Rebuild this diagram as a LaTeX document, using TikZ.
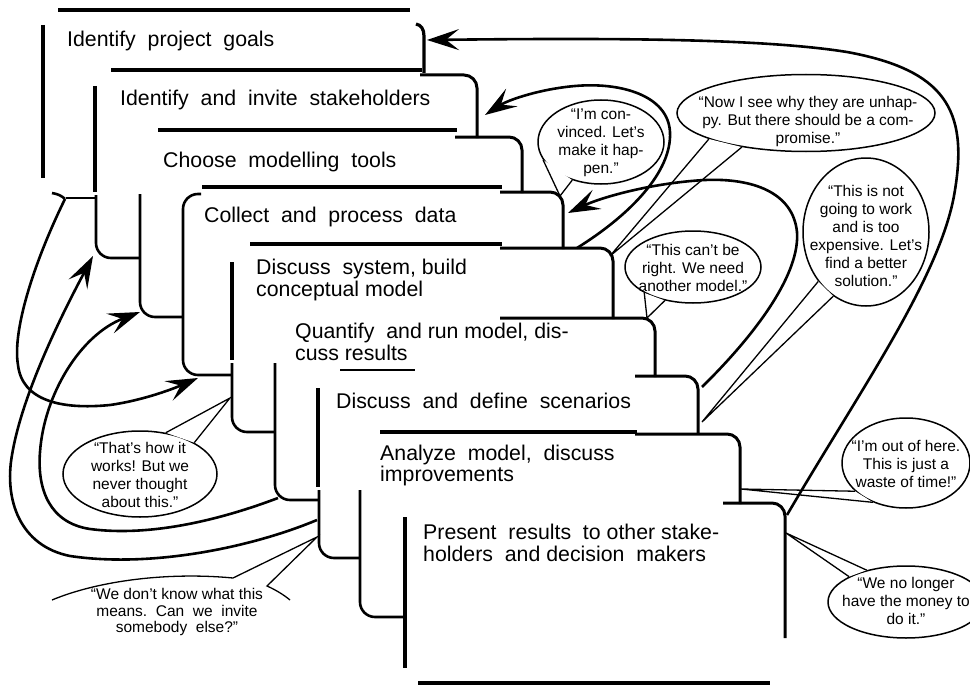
\documentclass[tikz,border=0pt]{standalone}
\usepackage{fontspec}
\setmainfont{Liberation Sans}
\usetikzlibrary{arrows.meta,shapes.geometric,calc}
\newcommand\btail[4]{%
  \fill[white] (#1.#2) -- ($(#1.#2)!0.25!(#3)$) -- ($(#1.#4)!0.25!(#3)$) -- (#1.#4) -- cycle;
  \draw[tailline] (#1.#2) -- (#3) -- (#1.#4);}
\begin{document}
\begin{tikzpicture}[x=1pt,y=-1pt,
  cardline/.style={line width=3.2pt},
  connline/.style={line width=2.6pt, rounded corners=15pt},
  cornerline/.style={line width=3pt, rounded corners=13pt},
  curveline/.style={line width=2.6pt},
  arrowline/.style={curveline, -{Stealth[length=32pt,width=21pt,inset=13pt]}},
  cardtxt/.style={anchor=base west, inner sep=0pt, font=\fontsize{21.3}{24}\selectfont},
  bubbleshape/.style={ellipse, draw, line width=1.5pt, fill=white, inner sep=0pt},
  btxt/.style={align=center, inner sep=0pt, font=\fontsize{15.5}{18}\selectfont},
  tailline/.style={line width=1.3pt, line join=miter},
]
\fill[white] (0,0) rectangle (970,685);
\useasboundingbox (0,0) rectangle (970,685);

% ---------- cards ----------
% card 1
\draw[cardline] (58,10) -- (410,10);
\draw[cardline] (43,25) -- (43,178);
\draw[cardline] (416,24) .. controls (421,25) and (424,29) .. (424,36) -- (424,73);
% card 2
\draw[cardline] (111,70) -- (422,70);
\draw[cardline] (95,86) -- (95,192);
\draw[cornerline] (420,75) -- (477,75) -- (477,138);
\draw[connline] (96,195) -- (96,258) -- (140,258);
% card 3
\draw[cardline] (158,130) -- (457,130);
\draw[cornerline] (455,137) -- (522,137) -- (522,193);
\draw[connline] (140,194) -- (140,317) -- (183,317);
% card 4
\draw[cardline] (202,187) -- (502,187);
\draw[cornerline] (500,192) -- (563,192) -- (563,249);
\draw[connline] (201,194) -- (183,194) -- (183,375) -- (232,375);
% card 5
\draw[cardline] (250,244) -- (502,244);
\draw[cornerline] (500,248) -- (613,248) -- (613,319);
\draw[cardline] (232,262) -- (232,360);
\draw[connline] (232,363) -- (232,432) -- (275,432);
% card 6
\draw[cornerline] (500,318) -- (655,318) -- (655,377);
\draw[connline] (275,363) -- (275,500) -- (318,500);
% card 7
\draw[line width=1.5pt] (340,370) -- (415,370);
\draw[cornerline] (635,376) -- (698,376) -- (698,434);
\draw[cardline] (318,388) -- (318,487);
\draw[connline] (319,490) -- (319,558) -- (360,558);
% card 8
\draw[cardline] (380,432) -- (637,432);
\draw[cornerline] (635,434) -- (740,434) -- (740,504);
\draw[connline] (360,490) -- (360,617) -- (405,617);
% card 9
\draw[cornerline] (723,503) -- (785,503) -- (785,638);
\draw[cardline] (405,517) -- (405,668);
\draw[cardline] (418,683) -- (770,683);

% ---------- card texts ----------
\node[cardtxt] (t1) at (67,47) {Identify\ \ project\ \ goals};
\node[cardtxt] (t2) at (120,106) {Identify\ \ and\ \ invite\ \ stakeholders};
\node[cardtxt] (t3) at (163,167) {Choose\ \ modelling\ \ tools};
\node[cardtxt] (t4) at (204,222) {Collect\ \ and\ \ process\ \ data};
\node[cardtxt] (t5a) at (256,274) {Discuss\ \ system, build};
\node[cardtxt] (t5b) at (256,296) {conceptual model};
\node[cardtxt] (t6a) at (295,338) {Quantify\ \ and run model, dis-};
\node[cardtxt] (t6b) at (295,360) {cuss\ results};
\node[cardtxt] (t7) at (336,408) {Discuss\ \ and\ \ define\ \ scenarios};
\node[cardtxt] (t8a) at (380,460) {Analyze\ \ model,\ \ discuss};
\node[cardtxt] (t8b) at (380,481) {improvements};
\node[cardtxt] (t9a) at (423,539) {Present\ \ results\ \ to other stake-};
\node[cardtxt] (t9b) at (423,561) {holders\ \ and decision\ \ makers};

% ---------- anchor points ----------
\coordinate (hookA) at (65,199);
\coordinate (k2) at (93,256);
\coordinate (k3) at (140,312);
\coordinate (k4) at (198,378);
\coordinate (s7) at (317,520);
\coordinate (s6) at (278,498);
\coordinate (r1) at (427,40);
\coordinate (r2) at (485,115);
\coordinate (r4) at (568,213);
\coordinate (sR2) at (577,248);
\coordinate (sR3) at (702,387);
\coordinate (sR4) at (787,515);

% ---------- left loops ----------
\draw[curveline] (95,198) -- (66,198);
\draw[curveline] (52,193) .. controls (58,194) and (62,196) .. (hookA);
\draw[arrowline] (hookA) .. controls (35,260) and (12,330) .. (18,365)
   .. controls (22,400) and (60,410) .. (110,405)
   .. controls (145,400) and (175,388) .. (k4);
\draw[arrowline] (s7) .. controls (250,548) and (150,568) .. (70,556)
   .. controls (20,546) and (4,500) .. (12,455)
   .. controls (22,395) and (60,318) .. (k2);
\draw[arrowline] (s6) .. controls (220,520) and (150,537) .. (90,529)
   .. controls (50,523) and (37,490) .. (40,452)
   .. controls (44,395) and (80,335) .. (k3);

% ---------- right arrows ----------
\draw[arrowline] (sR2) .. controls (630,215) and (672,172) .. (670,132)
   .. controls (668,95) and (620,82) .. (575,86)
   .. controls (540,89) and (508,100) .. (r2);
\draw[arrowline] (sR3) .. controls (760,330) and (800,272) .. (797,232)
   .. controls (793,192) and (752,178) .. (705,180)
   .. controls (650,183) and (600,198) .. (r4);

% ---------- speech bubbles ----------
\node[bubbleshape, minimum width=126pt, minimum height=84pt] (b1) at (601,142) {};
\node[btxt] (b1t) at (601,143) {“I’m con-\\vinced. Let’s\\make it hap-\\pen.”};
\coordinate (tip1) at (560,196);
\btail{b1}{197}{tip1}{233}

\node[bubbleshape, minimum width=258pt, minimum height=77pt] (b2) at (806,113) {};
\node[btxt] (b2t) at (808,121) {“Now I see why they are unhap-\\py. But there should be a com-\\promise.”};
\coordinate (tip2) at (610,256);
\btail{b2}{195}{tip2}{208}

\node[bubbleshape, minimum width=136pt, minimum height=72pt] (b3) at (693,267) {};
\node[btxt] (b3t) at (693,268) {“This can’t be\\right. We need\\another model.”};
\coordinate (tip3) at (647,318);
\btail{b3}{208}{tip3}{230}

\node[bubbleshape, minimum width=126pt, minimum height=148pt] (b4) at (866,232) {};
\node[btxt] (b4t) at (866,236) {“This is not\\going to work\\and is too\\expensive. Let’s\\find a better\\solution.”};
\coordinate (tip4) at (702,422);
\btail{b4}{226}{tip4}{243}

\node[bubbleshape, minimum width=128pt, minimum height=90pt] (b5) at (906,463) {};
\node[btxt] (b5t) at (906,464) {“I’m out of here.\\This is just a\\waste of time!"};
\coordinate (tip5) at (741,489);
\btail{b5}{209}{tip5}{230}

\node[bubbleshape, minimum width=156pt, minimum height=72pt] (b6) at (906,602) {};
\node[btxt] (b6t) at (906,601) {“We no longer\\have the money to\\do it.”};
\coordinate (tip6) at (786,533);
\btail{b6}{141}{tip6}{156}

\node[bubbleshape, minimum width=154pt, minimum height=86pt] (b7) at (140,474) {};
\node[btxt] (b7t) at (140,475) {“That’s how it\\works! But we\\never thought\\about this.”};
\coordinate (tip7) at (230,398);
\btail{b7}{30}{tip7}{58}

\coordinate (tip8) at (317,537);
\draw[tailline] (52,600) .. controls (100,580) and (170,572) .. (233,578) -- (tip8)
   -- (267,586) .. controls (276,590) and (284,595) .. (290,600);
\node[btxt, font=\fontsize{15.5}{16.5}\selectfont] (b8t) at (177,612) {“We don’t know what this\\means.\ \ Can\ \ we\ \ invite\\somebody\ \ else?"};

% ---------- big return arrow ----------
\draw[arrowline] (sR4) .. controls (860,390) and (942,275) .. (955,190)
   .. controls (968,110) and (945,70) .. (847,52)
   .. controls (760,38) and (600,38) .. (r1);
\end{tikzpicture}
\end{document}
